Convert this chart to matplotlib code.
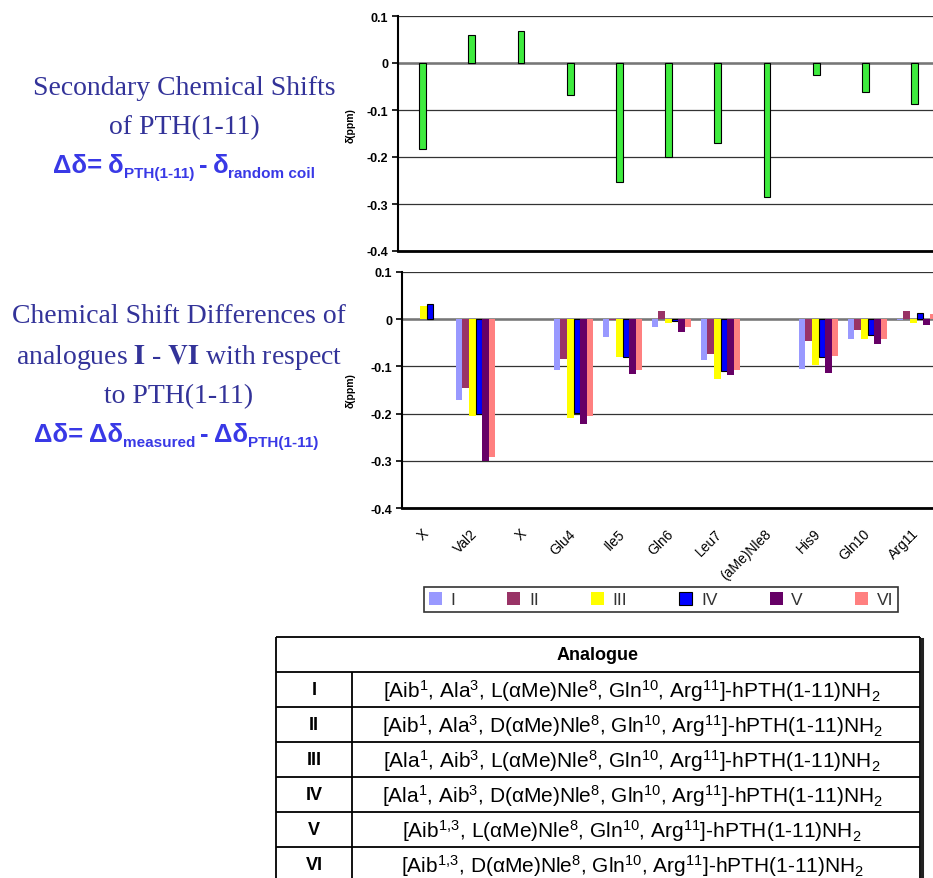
import matplotlib
matplotlib.use("Agg")
import matplotlib.pyplot as plt
import numpy as np
from matplotlib.transforms import ScaledTranslation

plt.rcParams["font.family"] = ["Liberation Sans", "DejaVu Sans"]
plt.rcParams["mathtext.fontset"] = "custom"
plt.rcParams["mathtext.rm"] = "Liberation Sans"
plt.rcParams["mathtext.it"] = "Liberation Sans:italic"
plt.rcParams["mathtext.bf"] = "Liberation Sans:bold"

# --- data ---
residues = ["X", "Val2", "X", "Glu4", "Ile5", "Gln6", "Leu7", "(aMe)Nle8", "His9", "Gln10", "Arg11"]
sec_shift = [-0.182, 0.060, 0.068, -0.068, -0.254, -0.199, -0.170, -0.285, -0.025, -0.062, -0.087]

nan = np.nan
diff_I = [nan, -0.171, nan, -0.108, -0.038, -0.017, -0.087, nan, -0.105, -0.041, -0.002]
diff_II = [nan, -0.146, nan, -0.085, -0.002, 0.018, -0.074, nan, -0.047, -0.022, 0.018]
diff_III = [0.027, -0.205, nan, -0.210, -0.081, -0.009, -0.127, nan, -0.098, -0.041, -0.009]
diff_IV = [0.032, -0.201, nan, -0.199, -0.081, -0.003, -0.110, nan, -0.081, -0.033, 0.014]
diff_V = [nan, -0.300, nan, -0.222, -0.116, -0.028, -0.119, nan, -0.114, -0.052, -0.013]
diff_VI = [nan, -0.292, nan, -0.205, -0.108, -0.017, -0.108, nan, -0.079, -0.041, 0.010]

analogue_labels = ["I", "II", "III", "IV", "V", "VI"]
analogue_names = [
    "[Aib$^{1}$, Ala$^{3}$, L(αMe)Nle$^{8}$, Gln$^{10}$, Arg$^{11}$]-hPTH(1-11)NH$_{2}$",
    "[Aib$^{1}$, Ala$^{3}$, D(αMe)Nle$^{8}$, Gln$^{10}$, Arg$^{11}$]-hPTH(1-11)NH$_{2}$",
    "[Ala$^{1}$, Aib$^{3}$, L(αMe)Nle$^{8}$, Gln$^{10}$, Arg$^{11}$]-hPTH(1-11)NH$_{2}$",
    "[Ala$^{1}$, Aib$^{3}$, D(αMe)Nle$^{8}$, Gln$^{10}$, Arg$^{11}$]-hPTH(1-11)NH$_{2}$",
    r"[Aib$^{1,\!3}$, L(αMe)Nle$^{8}$, Gln$^{10}$, Arg$^{11}$]-hPTH(1-11)NH$_{2}$",
    r"[Aib$^{1,\!3}$, D(αMe)Nle$^{8}$, Gln$^{10}$, Arg$^{11}$]-hPTH(1-11)NH$_{2}$",
]
series = [diff_I, diff_II, diff_III, diff_IV, diff_V, diff_VI]
colors = ["#9999FF", "#993366", "#FFFF00", "#0000FF", "#660066", "#FF8080"]

W, H = 933, 879
fig = plt.figure(figsize=(W / 100, H / 100), dpi=100)


def px_axes(l, t, r, b):
    return fig.add_axes([l / W, 1 - b / H, (r - l) / W, (b - t) / H])


# overlay in pixel coordinates for texts and the table
ov = px_axes(0, 0, W, H)
ov.set_xlim(0, W)
ov.set_ylim(H, 0)
ov.axis("off")

ax1 = px_axes(398, 17, 398 + 49.2 * 11, 252)
ax2 = px_axes(402, 273, 402 + 49.0 * 11, 509)

x = np.arange(len(residues))
yt = [-0.4, -0.3, -0.2, -0.1, 0, 0.1]
ytl = ["-0.4", "-0.3", "-0.2", "-0.1", "0", "0.1"]

for ax in (ax1, ax2):
    ax.set_xlim(-0.5, 10.5)
    ax.set_ylim(-0.4, 0.1)
    ax.set_yticks(yt)
    ax.set_yticklabels(ytl, fontsize=9, fontweight="bold")
    ax.yaxis.grid(True, color="#333333", lw=0.9)
    ax.set_axisbelow(True)
    ax.axhline(0, color="#777777", lw=1.8, zorder=0.8)
    for s in ("top", "right"):
        ax.spines[s].set_visible(False)
    ax.spines["left"].set_linewidth(1.5)
    ax.spines["bottom"].set_linewidth(2)
    ax.tick_params(axis="y", direction="out", length=4, width=1.2, pad=3)
    ax.set_ylabel("δ(ppm)", fontsize=7.5, fontweight="bold")

ax1.yaxis.set_label_coords(-0.078, 0.54)
ax2.yaxis.set_label_coords(-0.086, 0.50)

# top chart
ax1.bar(x, sec_shift, width=0.137, color="#3EEB3E", edgecolor="black", linewidth=0.8, zorder=2)
ax1.tick_params(axis="x", length=0, labelbottom=False)

# bottom chart
bw = 0.136
handles = []
for i, (vals, c, lab) in enumerate(zip(series, colors, analogue_labels)):
    ec = "black" if lab == "IV" else c
    lw = 0.8 if lab == "IV" else 0
    b = ax2.bar(x + (i - 2.5) * bw, vals, width=bw, color=c, edgecolor=ec, linewidth=lw,
                label=lab, zorder=2)
    handles.append(b)

ax2.set_xticks(x)
ax2.set_xticklabels(residues, rotation=45, ha="right", va="top", rotation_mode="anchor", fontsize=10)
ax2.tick_params(axis="x", length=0, pad=13)
shift = ScaledTranslation(-0.05, 0, fig.dpi_scale_trans)
for lbl in ax2.get_xticklabels():
    lbl.set_transform(lbl.get_transform() + shift)

leg = fig.legend(handles=handles, labels=analogue_labels, ncol=6, loc="center",
                 bbox_to_anchor=(661 / W, 1 - 600.5 / H), frameon=True, fancybox=False,
                 edgecolor="black", fontsize=12.5, handlelength=0.75, handleheight=0.75,
                 handletextpad=0.5, columnspacing=3.0, borderpad=0.25)
leg.get_frame().set_linewidth(1.2)
for t in leg.get_texts():
    t.set_color("#333333")

# --- left-hand text ---
serif_col = "#333399"
form_col = "#3939E6"
serif = dict(family="Liberation Serif", fontsize=20, color=serif_col, ha="center", va="baseline")
ov.text(184, 95, "Secondary Chemical Shifts", **serif)
ov.text(184, 134, "of PTH(1-11)", **serif)
ov.text(179, 323, "Chemical Shift Differences of", **serif)
ov.text(179, 364, r"analogues $\mathbf{I}$ - $\mathbf{VI}$ with respect", math_fontfamily="stix", **serif)
ov.text(179, 403, "to PTH(1-11)", **serif)


def formula(xc, y, pieces):
    # pieces: (text, fontsize, baseline drop in px, gap after in px)
    texts = []
    for s, fs, dy, gap in pieces:
        texts.append(ov.text(0, y + dy, s, fontsize=fs, fontweight="bold", color=form_col,
                             ha="left", va="baseline"))
    r = fig.canvas.get_renderer()
    widths = [t.get_window_extent(r).width for t in texts]
    total = sum(widths) + sum(p[3] for p in pieces)
    xx = xc - total / 2
    for t, w, p in zip(texts, widths, pieces):
        t.set_x(xx)
        xx += w + p[3]


formula(184, 173, [("Δδ=", 18.5, 0, 6), ("δ", 18.5, 0, 0), ("PTH(1-11)", 11, 5, 5),
                   ("-", 18.5, 0, 5), ("δ", 18.5, 0, 0), ("random coil", 11, 5, 0)])
formula(176, 442, [("Δδ=", 18.5, 0, 6), ("Δδ", 18.5, 0, 0), ("measured", 11, 5, 5),
                   ("-", 18.5, 0, 5), ("Δδ", 18.5, 0, 0), ("PTH(1-11)", 11, 5, 0)])

# --- table ---
tx0, tdiv, tx1 = 276, 352, 920
ty0, rh = 638, 35
tbot = ty0 + rh * 7
lk = dict(color="black", lw=1.3, solid_capstyle="butt")
ov.plot([tx0, tx1], [ty0, ty0], **lk)
ov.plot([tx0, tx0], [ty0, tbot], **lk)
ov.plot([tx1, tx1], [ty0, tbot], **lk)
ov.plot([tx1 + 1.5, tx1 + 1.5], [ty0 + 2, tbot], color="#222222", lw=2.2)
ov.plot([tdiv, tdiv], [ty0 + rh, tbot], **lk)
for k in range(1, 7):
    ov.plot([tx0, tx1], [ty0 + rh * k, ty0 + rh * k], **lk)

ov.text((tx0 + tx1) / 2, ty0 + rh / 2, "Analogue", fontsize=13, fontweight="bold",
        ha="center", va="center")
for k, (lab, name) in enumerate(zip(analogue_labels, analogue_names)):
    yc = ty0 + rh * (k + 1) + rh / 2
    ov.text((tx0 + tdiv) / 2, yc, lab, fontsize=13, fontweight="bold", ha="center", va="center")
    ov.text((tdiv + tx1) / 2 - 4, yc + 1, name, fontsize=15, ha="center", va="center")

fig.savefig("out.png", dpi=100)
